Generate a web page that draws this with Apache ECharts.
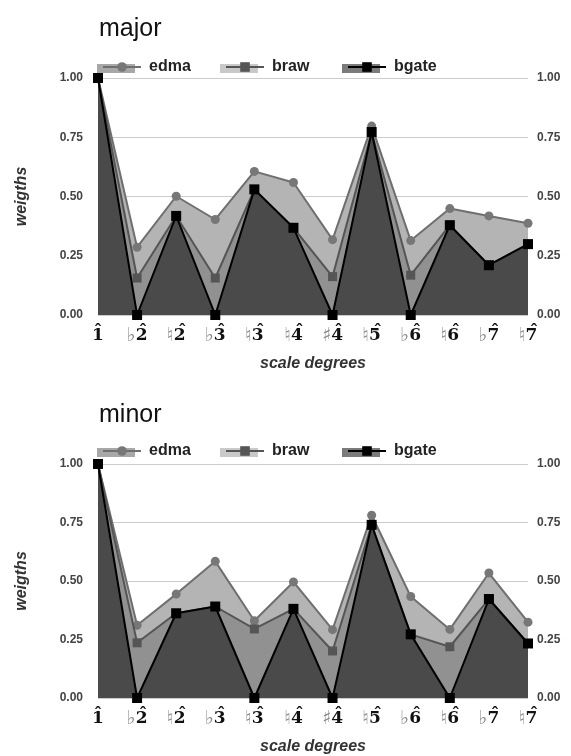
<!DOCTYPE html>
<html>
<head>
<meta charset="utf-8">
<script src="https://cdn.jsdelivr.net/npm/echarts@6/dist/echarts.min.js"></script>
<style>
html,body{margin:0;padding:0;background:#fff;}
#c{width:571px;height:756px;}
</style>
</head>
<body>
<div id="c"></div>
<script>
// ---- data ----
var degreeAcc = ['', '\u266D', '\u266E', '\u266D', '\u266E', '\u266E', '\u266F', '\u266E', '\u266D', '\u266E', '\u266D', '\u266E'];
var degreeNum = ['1', '2', '2', '3', '3', '4', '4', '5', '6', '6', '7', '7'];
var categories = degreeAcc.map(function (a, i) { return a + degreeNum[i] + '\u0302'; });
var seriesNames = ['edma', 'braw', 'bgate'];
var yTicks = [0, 0.25, 0.5, 0.75, 1];

var majorEdma  = [1.0, 0.286, 0.501, 0.403, 0.606, 0.559, 0.318, 0.797, 0.314, 0.449, 0.418, 0.387];
var majorBraw  = [1.0, 0.156, 0.418, 0.156, 0.530, 0.368, 0.162, 0.772, 0.168, 0.379, 0.210, 0.299];
var majorBgate = [1.0, 0.0,   0.418, 0.0,   0.530, 0.368, 0.0,   0.772, 0.0,   0.379, 0.210, 0.299];

var minorEdma  = [1.0, 0.311, 0.444, 0.584, 0.330, 0.496, 0.292, 0.781, 0.434, 0.293, 0.534, 0.324];
var minorBraw  = [1.0, 0.236, 0.362, 0.391, 0.295, 0.381, 0.201, 0.740, 0.272, 0.219, 0.423, 0.233];
var minorBgate = [1.0, 0.0,   0.362, 0.391, 0.0,   0.381, 0.0,   0.740, 0.272, 0.0,   0.423, 0.233];

var panels = [
  { title: 'major', data: [majorEdma, majorBraw, majorBgate] },
  { title: 'minor', data: [minorEdma, minorBraw, minorBgate] }
];

// ---- styles ----
var FONT = '"Liberation Sans", Arial, sans-serif';
var styles = [
  { fill: '#b4b4b4', line: '#6f6f6f', sym: 'circle', symColor: '#777777', size: 9, width: 2, legendFill: '#a8a8a8' },
  { fill: '#919191', line: '#555555', sym: 'rect', symColor: '#555555', size: 9, width: 2, legendFill: '#c9c9c9' },
  { fill: '#4a4a4a', line: '#000000', sym: 'rect', symColor: '#000000', size: 10, width: 2, legendFill: '#7b7b7b' }
];
var layout = [
  { gridTop: 78, gridH: 237, titleTop: 12, legendTop: 54 },
  { gridTop: 464, gridH: 239, titleTop: 398, legendTop: 438 }
];
var legendLeft = [97, 220, 342];
var GRID_LEFT = 98, GRID_RIGHT = 43;

var option = {
  animation: false,
  backgroundColor: '#ffffff',
  title: [], legend: [], grid: [], xAxis: [], yAxis: [], series: [], graphic: []
};

panels.forEach(function (p, pi) {
  var L = layout[pi];
  option.title.push({
    text: p.title, left: 94, top: L.titleTop,
    textStyle: { fontFamily: FONT, fontSize: 25, fontWeight: 'normal', color: '#111' }
  });
  seriesNames.forEach(function (n, si) {
    var s = styles[si];
    option.legend.push({
      left: legendLeft[si], top: L.legendTop, itemWidth: 38, itemHeight: 12, itemGap: 6,
      data: [n],
      textStyle: { fontFamily: FONT, fontSize: 16, fontWeight: 'bold', color: '#222', padding: [0, 0, 0, 3] },
      selectedMode: false, z: 5
    });
    option.graphic.push({
      type: 'rect', left: legendLeft[si], top: L.legendTop + 10, z: 1,
      shape: { width: 38, height: 9 }, style: { fill: s.legendFill }
    });
  });
  option.grid.push({ left: GRID_LEFT, right: GRID_RIGHT, top: L.gridTop, height: L.gridH });
  option.xAxis.push({
    type: 'category', gridIndex: pi, data: categories, boundaryGap: false,
    axisLine: { show: false }, axisTick: { show: false }, splitLine: { show: false },
    axisLabel: {
      margin: 16, interval: 0,
      formatter: function (v, idx) {
        var a = degreeAcc[idx];
        return (a ? '{hatA|\u02C6}' : '{hat|\u02C6}') + '\n' +
          (a ? '{acc|' + a + '}' : '') + '{num|' + degreeNum[idx] + '}';
      },
      rich: {
        hat: { fontFamily: '"DejaVu Serif", serif', fontSize: 17, fontWeight: 'bold', color: '#111', lineHeight: 1, height: 1 },
        hatA: { fontFamily: '"DejaVu Serif", serif', fontSize: 17, fontWeight: 'bold', color: '#111', lineHeight: 1, height: 1, padding: [0, 0, 0, 12] },
        acc: { fontFamily: '"DejaVu Sans"', fontSize: 19, color: '#888888', lineHeight: 8 },
        num: { fontFamily: '"DejaVu Serif", serif', fontSize: 17, fontWeight: 'bold', color: '#111', lineHeight: 8 }
      }
    },
    name: 'scale degrees', nameLocation: 'middle', nameGap: 41,
    nameTextStyle: { fontFamily: FONT, fontSize: 16, fontStyle: 'italic', fontWeight: 'bold', color: '#333' }
  });
  var yBase = {
    type: 'value', gridIndex: pi, min: yTicks[0], max: yTicks[yTicks.length - 1], interval: yTicks[1] - yTicks[0],
    axisLine: { show: false }, axisTick: { show: false }
  };
  option.yAxis.push(Object.assign({}, yBase, {
    position: 'left',
    splitLine: { show: true, lineStyle: { color: '#cccccc', width: 1 } },
    axisLabel: { margin: 15, formatter: function (v) { return v.toFixed(2); }, fontFamily: FONT, fontSize: 12, fontWeight: 'bold', color: '#444' },
    name: 'weigths', nameLocation: 'middle', nameGap: 68,
    nameTextStyle: { fontFamily: FONT, fontSize: 16, fontStyle: 'italic', fontWeight: 'bold', color: '#333' }
  }));
  option.yAxis.push(Object.assign({}, yBase, {
    position: 'right', splitLine: { show: false },
    axisLabel: { margin: 9, formatter: function (v) { return v.toFixed(2); }, fontFamily: FONT, fontSize: 12, fontWeight: 'bold', color: '#444' }
  }));
  seriesNames.forEach(function (n, si) {
    var s = styles[si];
    option.series.push({
      name: n, type: 'line', xAxisIndex: pi, yAxisIndex: pi * 2, data: p.data[si],
      symbol: s.sym, symbolSize: s.size, showAllSymbol: true,
      lineStyle: { color: s.line, width: s.width },
      itemStyle: { color: s.symColor, borderWidth: 0 },
      areaStyle: { color: s.fill, opacity: 1 },
      z: 2 + si
    });
  });
});

var chart = echarts.init(document.getElementById('c'), null, { renderer: 'canvas' });
chart.setOption(option);
</script>
</body>
</html>
